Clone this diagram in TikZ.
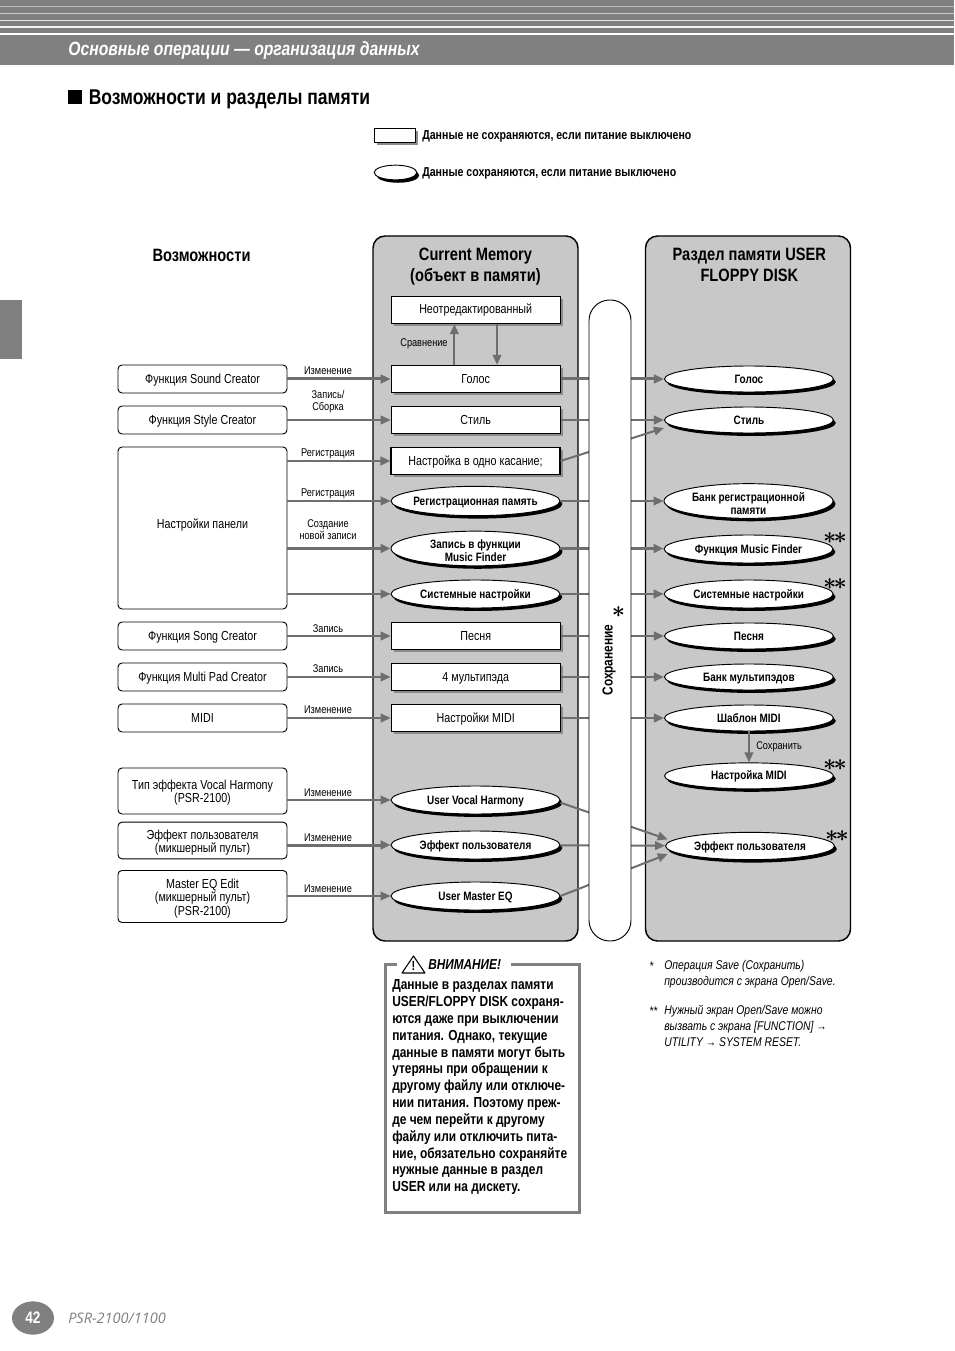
\documentclass[tikz,border=0pt]{standalone}
\usepackage{fontspec}
\setmainfont{Liberation Sans}[FakeStretch=0.82]
\newfontfamily\footerfont{Open Sans}
\usetikzlibrary{shapes.geometric, arrows.meta, positioning, shadows}
\definecolor{psr-band}{RGB}{128,128,128}
\definecolor{psr-panel}{RGB}{200,200,200}
\definecolor{psr-flow}{RGB}{110,110,110}
\newcommand{\boxfont}{\fontsize{9.8}{10}\selectfont}
\newcommand{\tagfont}{\fontsize{8.4}{9}\selectfont}
\newcommand{\ovalfont}{\fontsize{9.1}{9.8}\selectfont\bfseries}
\newcommand{\lowertext}{\rule{0pt}{10pt}}
\newcommand{\twostars}{$\ast\mkern-2mu\ast$}

\begin{document}
\begin{tikzpicture}[
    x=0.75pt, y=-0.75pt,
    featbox/.style={rectangle, draw=black, line width=0.7pt, fill=white, rounded corners=3pt, minimum width=126.75pt, inner sep=0pt, align=center, font=\boxfont},
    oneline/.style={text height=6.5pt, text depth=0.5pt},
    membox/.style={rectangle, draw=black, thick, fill=white, minimum width=126.75pt, minimum height=20.5pt, inner sep=0pt, align=center, font=\boxfont, oneline, drop shadow={shadow xshift=2pt, shadow yshift=-2pt, fill=black!45, opacity=1}},
    oval/.style={ellipse, draw=black, line width=0.7pt, fill=white, minimum width=126.75pt, minimum height=19.5pt, inner xsep=-30pt, inner ysep=-5pt, align=center, font=\ovalfont, drop shadow={shadow xshift=1.8pt, shadow yshift=-2.2pt, fill=black, opacity=1}},
    ovalline/.style={oval, oneline},
    panel/.style={rectangle, draw=black, line width=1.1pt, fill=psr-panel, rounded corners=9pt, minimum width=153.75pt, minimum height=528.75pt},
    flow/.style={draw=psr-flow, line width=1.5pt, -{Triangle[length=7.5pt,width=6.5pt]}},
    flowbold/.style={flow, line width=2.25pt},
    tag/.style={align=center, inner sep=0pt, font=\tagfont},
    headline/.style={inner sep=0pt, align=center, font=\fontsize{13.4}{15.8}\selectfont\bfseries},
    legendtext/.style={anchor=west, inner sep=0pt, font=\fontsize{9.7}{10}\selectfont\bfseries},
    stars/.style={inner sep=0pt, font=\LARGE\boldmath},
    footnote/.style={anchor=west, inner sep=0pt, font=\fontsize{9.5}{10}\selectfont\itshape}
]
\useasboundingbox (0,0) rectangle (954,1351);

% Page header
\fill[psr-band] (0,0) rectangle (954,32.7);
\foreach \ypos/\tone/\wid in {6.5/45/1.2, 13.5/60/1.2, 20.5/80/1.3, 27/90/1.3}
    \fill[white!\tone!psr-band] (0,\ypos-\wid/2) rectangle (954,\ypos+\wid/2);
\fill[psr-band] (0,35) rectangle (954,65);
\fill[psr-band] (0,300) rectangle (22,359);
\node[anchor=west, inner sep=0pt, text=white, font=\fontsize{14.4}{16}\selectfont\bfseries\itshape] (chapter) at (68,50.5) {Основные операции — организация данных};
\node[anchor=west, rectangle, fill=black, minimum size=10.5pt, inner sep=0pt] (titlemark) at (68,97) {};
\node[right=4.5pt of titlemark, yshift=-1.5pt, inner sep=0pt, font=\fontsize{16}{18}\selectfont\bfseries] (title) {Возможности и разделы памяти};

% Legend
\node[membox, minimum width=31pt, minimum height=11pt] (legbox) at (395,135.5) {};
\node[oval, minimum width=32pt, minimum height=11pt, inner ysep=0pt] (legoval) at (395.5,172.5) {};
\node[legendtext] (legboxtext) at (422,136) {Данные не сохраняются, если питание выключено};
\node[legendtext] (legovaltext) at (422,173) {Данные сохраняются, если питание выключено};

% Panels
\node[headline] (feathead) at (201.5,255) {Возможности};
\node[panel] (curmem) at (475.5,588.5) {};
\node[panel] (usermem) at (748,588.5) {};
\node[headline, below=9pt of curmem.north] (curhead) {Current Memory\\(объект в памяти)};
\node[headline, below=9pt of usermem.north, xshift=1pt] (userhead) {Раздел памяти USER\\FLOPPY DISK};

% Features
\node[featbox, oneline, minimum height=21pt] (sound) at (202.5,379) {Функция Sound Creator};
\node[featbox, oneline, minimum height=21pt] (stylefn) at (202.5,420) {Функция Style Creator};
\node[featbox, text height=6.5pt, text depth=6pt, minimum height=121.5pt] (panelset) at (202.5,528) {Настройки панели};
\node[featbox, oneline, minimum height=21pt] (songfn) at (202.5,636) {Функция Song Creator};
\node[featbox, oneline, minimum height=21pt] (padfn) at (202.5,677) {Функция Multi Pad Creator};
\node[featbox, oneline, minimum height=21pt] (midifn) at (202.5,718) {MIDI};
\node[featbox, minimum height=34.5pt] (vharm) at (202.5,791) {\lowertext Тип эффекта Vocal Harmony\\(PSR-2100)};
\node[featbox, minimum height=27.5pt] (usereff) at (202.5,840.5) {\lowertext Эффект пользователя\\(микшерный пульт)};
\node[featbox, minimum height=39pt] (mastereq) at (202.5,896.5) {\lowertext Master EQ Edit\\(микшерный пульт)\\(PSR-2100)};

% Current Memory
\node[membox, right=77.4pt of sound] (voice) {Голос};
\node[membox, above=30.45pt of voice] (orig) {Неотредактированный};
\node[membox, right=77.4pt of stylefn] (stylem) {Стиль};
\node[membox] (ots) at (475.5,461) {Настройка в одно касание;};
\node[ovalline, minimum height=22pt] (regmem) at (475.5,501) {Регистрационная память};
\node[oval, minimum height=26pt] (mfrec) at (475.5,548.5) {\lowertext Запись в функции\\Music Finder};
\node[ovalline, minimum height=21pt] (syscur) at (475.5,594) {Системные настройки};
\node[membox, right=77.4pt of songfn] (songm) {Песня};
\node[membox, right=77.4pt of padfn] (padm) {4 мультипэда};
\node[membox, right=77.4pt of midifn] (midim) {Настройки MIDI};
\node[ovalline, minimum height=21pt] (uvocal) at (475.5,800) {User Vocal Harmony};
\node[ovalline, minimum height=21pt] (ueffcur) at (475.5,845) {Эффект пользователя};
\node[ovalline, minimum height=21pt] (umaster) at (475.5,896) {User Master EQ};

% User memory
\node[ovalline, right=77.4pt of voice] (uvoice) {Голос};
\node[ovalline, right=77.4pt of stylem] (ustyle) {Стиль};
\node[oval, minimum height=26pt] (ubank) at (748.5,501) {\lowertext Банк регистрационной\\памяти};
\node[ovalline, minimum height=21pt] (umf) at (748.5,549) {Функция Music Finder};
\node[ovalline, minimum height=21pt, right=77.4pt of syscur] (usys) {Системные настройки};
\node[ovalline, right=77.4pt of songm] (usong) {Песня};
\node[ovalline, right=77.4pt of padm] (upad) {Банк мультипэдов};
\node[ovalline, right=77.4pt of midim] (umidi) {Шаблон MIDI};
\node[ovalline, below=23.2pt of umidi] (umidiset) {Настройка MIDI};
\node[ovalline, minimum height=20.5pt] (ueff) at (750,846) {Эффект пользователя};

% Feature arrows
\draw[flowbold] (sound) -- (voice);
\draw[flow] (stylefn) -- (stylem);
\draw[flow] (panelset.east |- ots.west) -- (ots.west);
\draw[flow] (panelset.east |- regmem.west) -- (regmem.west);
\draw[flowbold] (panelset.east |- mfrec.west) -- (mfrec.west);
\draw[flow] (panelset.east |- syscur.west) -- (syscur.west);
\draw[flow] (songfn) -- (songm);
\draw[flow] (padfn) -- (padm);
\draw[flow] (midifn) -- (midim);
\draw[flow] (vharm.east |- uvocal.west) -- (uvocal.west);
\draw[flowbold] (usereff.east |- ueffcur.west) -- (ueffcur.west);
\draw[flow] (mastereq.east |- umaster.west) -- (umaster.west);
\node[tag] (tagedit) at (328,370.5) {Изменение};
\node[tag] (tagrec) at (328,401.5) {Запись/\\Сборка};
\node[tag] (tagots) at (328,453.5) {Регистрация};
\node[tag] (tagreg) at (328,493.5) {Регистрация};
\node[tag] (tagnew) at (328,529.5) {Создание\\новой записи};
\node[tag] (tagsong) at (328,628.5) {Запись};
\node[tag] (tagpad) at (328,668.5) {Запись};
\node[tag] (tagmidi) at (328,709.5) {Изменение};
\node[tag] (tagvh) at (328,792.5) {Изменение};
\node[tag] (tageff) at (328,837.5) {Изменение};
\node[tag] (tageq) at (328,888.5) {Изменение};

% Compare
\draw[flow] ([xshift=-16pt]voice.north) -- ([xshift=-16pt]orig.south);
\draw[flow] ([xshift=16pt]orig.south) -- ([xshift=16pt]voice.north);
\node[tag] (tagcmp) at (424,343.5) {Сравнение};

% Save paths
\draw[flowbold] (voice) -- (uvoice);
\draw[flow] (stylem) -- (ustyle);
\draw[flow] (ots.east) -- ([yshift=-6pt]ustyle.west);
\draw[flow] (regmem) -- (regmem -| ubank.west);
\draw[flowbold] (mfrec) -- (mfrec -| umf.west);
\draw[flow] (syscur) -- (usys);
\draw[flow] (songm) -- (usong);
\draw[flow] (padm) -- (upad);
\draw[flow] (midim) -- (umidi);
\draw[flow] ([yshift=-2pt]uvocal.east) -- ([xshift=2pt,yshift=5pt]ueff.west);
\draw[flow] (ueffcur) -- (ueff);
\draw[flow] (umaster.east) -- ([xshift=2pt,yshift=-6pt]ueff.west);
\draw[flow] (umidi.south) -- (umidiset.north);
\node[tag, anchor=west] (tagsave) at (756,746.5) {Сохранить};

% Save column
\node[rectangle, draw=black, line width=0.7pt, fill=white, rounded corners=15.5pt, minimum width=31.5pt, minimum height=480.75pt] (savecol) at (610,620.5) {};
\node[rotate=90, inner sep=0pt, font=\fontsize{10.9}{11}\selectfont\bfseries] (savetext) at (609,660) {Сохранение};
\node[stars] (savestar) at (618.5,612) {$\ast$};

% Stars
\node[stars] (starmf) at (835,538) {\twostars};
\node[stars] (starsys) at (835,584) {\twostars};
\node[stars] (starmidi) at (835,765) {\twostars};
\node[stars] (stareff) at (837,836) {\twostars};

% Notice
\coordinate (noteleft) at (397,964);
\coordinate (noteright) at (511,964);
\draw[psr-band, line width=2.25pt] (noteleft) -- (385,964) -- (385,1212) -- (579,1212) -- (579,964) -- (noteright);
\draw[black, line width=0.8pt, line join=round] (402,973) -- (413.5,956) -- (425,973) -- cycle;
\node[inner sep=0pt, font=\fontsize{10}{10}\selectfont\bfseries] (noteicon) at (413.5,966) {!};
\node[anchor=west, inner sep=0pt, font=\fontsize{10.8}{11}\selectfont\bfseries\itshape] (notehead) at (428,965) {ВНИМАНИЕ!};
\node[anchor=north west, inner sep=0pt, align=left, font=\fontsize{10.9}{12.62}\selectfont\bfseries] (notetext) at (392,979.5) {Данные в разделах памяти\\USER/FLOPPY DISK сохраня-\\ются даже при выключении\\питания. Однако, текущие\\данные в памяти могут быть\\утеряны при обращении к\\другому файлу или отключе-\\нии питания. Поэтому преж-\\де чем перейти к другому\\файлу или отключить пита-\\ние, обязательно сохраняйте\\нужные данные в раздел\\USER или на дискету.};

% Footnotes
\node[footnote] (mark1) at (649,966.5) {*};
\node[footnote] (note1a) at (664,966.5) {Операция Save (Сохранить)};
\node[footnote] (note1b) at (664,982.5) {производится с экрана Open/Save.};
\node[footnote] (mark2) at (649,1011.5) {**};
\node[footnote] (note2a) at (664,1011.5) {Нужный экран Open/Save можно};
\node[footnote] (note2b) at (664,1027) {вызвать с экрана [FUNCTION] →};
\node[footnote] (note2c) at (664,1042.5) {UTILITY → SYSTEM RESET.};

% Page footer
\node[ellipse, fill=psr-band, minimum width=31.5pt, minimum height=25pt, inner sep=0pt, text=white, font=\fontsize{12.5}{13}\selectfont\bfseries] (pagenum) at (33,1318) {42};
\node[anchor=west, inner sep=0pt, text=psr-band, font=\footerfont\fontsize{10.9}{11}\selectfont\itshape] (model) at (68,1318) {PSR-2100/1100};

\end{tikzpicture}
\end{document}
